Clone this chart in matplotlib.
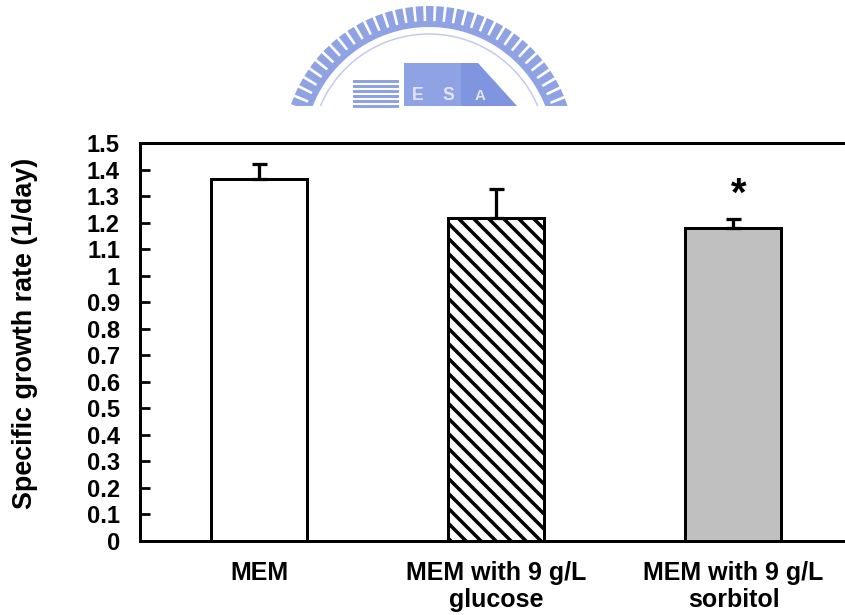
import matplotlib
import matplotlib.pyplot as plt
import numpy as np
from matplotlib.patches import Polygon, Rectangle

matplotlib.use("Agg")

# Growth data per medium
categories = ["MEM", "MEM with 9 g/L\nglucose", "MEM with 9 g/L\nsorbitol"]
growth_rate = [1.363, 1.219, 1.179]
growth_err = [0.057, 0.109, 0.035]
significant = [False, False, True]
bar_colors = ["white", "white", "#c0c0c0"]
bar_hatches = ["", "\\\\", ""]
y_ticks = [0, 0.1, 0.2, 0.3, 0.4, 0.5, 0.6, 0.7, 0.8, 0.9, 1, 1.1, 1.2, 1.3, 1.4, 1.5]

plt.rcParams["font.family"] = ["Liberation Sans", "DejaVu Sans"]
plt.rcParams["font.weight"] = "bold"
plt.rcParams["hatch.linewidth"] = 2.8

DPI = 90
fig = plt.figure(figsize=(845 / DPI, 615 / DPI), dpi=DPI, facecolor="white")


def draw_logo(fig):
    # faded university seal across the top of the page
    lax = fig.add_axes([0, 0, 1, 1], zorder=-5)
    lax.set_xlim(0, 845)
    lax.set_ylim(615, 0)
    lax.axis("off")
    blue = "#8fa3e4"
    cx, cy = 429, 152
    clip = Rectangle((0, 0), 845, 106, transform=lax.transData)

    # comb of teeth around the rim
    for ang in np.arange(20, 162, 4.1):
        t0, t1 = np.radians(ang - 1.5), np.radians(ang + 1.5)
        pts = [
            (cx + 128 * np.cos(t0), cy - 128 * np.sin(t0)),
            (cx + 146 * np.cos(t0), cy - 146 * np.sin(t0)),
            (cx + 146 * np.cos(t1), cy - 146 * np.sin(t1)),
            (cx + 128 * np.cos(t1), cy - 128 * np.sin(t1)),
        ]
        p = Polygon(pts, closed=True, color=blue, lw=0)
        lax.add_patch(p)
        p.set_clip_path(clip)

    th = np.radians(np.linspace(15, 165, 200))
    band = np.concatenate([
        np.column_stack([cx + 131 * np.cos(th), cy - 131 * np.sin(th)]),
        np.column_stack([cx + 125 * np.cos(th[::-1]), cy - 125 * np.sin(th[::-1])]),
    ])
    p = Polygon(band, closed=True, color=blue, lw=0)
    lax.add_patch(p)
    p.set_clip_path(clip)
    ln, = lax.plot(cx + 118 * np.cos(th), cy - 118 * np.sin(th), color="#c3cbea", lw=1.2)
    ln.set_clip_path(clip)

    # buildings
    for y in np.arange(80, 106, 5):
        lax.add_patch(Rectangle((353, y), 46, 3, color=blue, lw=0))
    lax.add_patch(Rectangle((404, 63), 57, 43, color=blue, lw=0))
    lax.add_patch(Polygon([(461, 63), (478, 63), (517, 106), (461, 106)],
                          closed=True, color="#7f95df", lw=0))
    lax.text(418, 96, "E", color="#dfe5f7", fontsize=14, ha="center", va="center")
    lax.text(448, 96, "S", color="#dfe5f7", fontsize=14, ha="center", va="center")
    lax.text(480, 96, "A", color="#dfe5f7", fontsize=12, ha="center", va="center")


draw_logo(fig)

ax = fig.add_axes([140 / 845, 74 / 615, 712 / 845, 398 / 615])
x = np.arange(len(categories))

bars = ax.bar(x, growth_rate, width=0.405, color=bar_colors,
              edgecolor="black", linewidth=2.4, zorder=2)
for b, h in zip(bars, bar_hatches):
    b.set_hatch(h)

ax.errorbar(x, growth_rate, yerr=[np.zeros(len(x)), growth_err], fmt="none",
            ecolor="black", elinewidth=2.6, capsize=6, capthick=2.6, zorder=3)

for xi, v, e, s in zip(x, growth_rate, growth_err, significant):
    if s:
        ax.text(xi + 0.02, v + e + 0.02, "*", fontsize=32, ha="center", va="bottom")

ax.set_xlim(-0.504, 2.5)
ax.set_ylim(0, 1.5)
ax.set_yticks(y_ticks)
ax.set_yticklabels([f"{t:g}" for t in y_ticks], fontsize=19, fontweight="bold")
ax.set_xticks(x)
ax.set_xticklabels(categories, fontsize=20, fontweight="bold", linespacing=1.15)
ax.tick_params(axis="y", direction="in", length=8, width=2.2, pad=16)
ax.tick_params(axis="x", length=0, pad=16)
for sp in ax.spines.values():
    sp.set_linewidth(2.4)

fig.text(25 / 845, 1 - 333 / 615, "Specific growth rate (1/day)", rotation=90,
         fontsize=21.5, fontweight="bold", ha="center", va="center")

fig.savefig("out.png", dpi=DPI, facecolor="white")
plt.close(fig)
